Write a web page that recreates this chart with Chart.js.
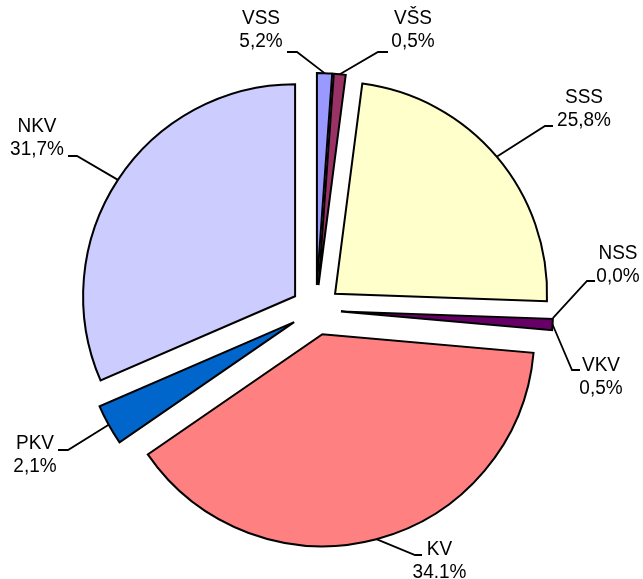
<!DOCTYPE html>
<html>
<head>
<meta charset="utf-8">
<script src="https://cdn.jsdelivr.net/npm/chart.js@4.4.1/dist/chart.umd.min.js"></script>
<style>
    html, body { margin: 0; padding: 0; background: #fff; }
</style>
</head>
<body>
<canvas id="pieChart" width="643" height="579"></canvas>
<script>
const categories = ['VSS', 'VŠS', 'SSS', 'NSS', 'VKV', 'KV', 'PKV', 'NKV'];
// slice sizes as they are drawn (%)
const shares = [1.15, 0.9, 23.5, 0, 0.85, 39.0, 3.1, 31.5];
// percentages printed next to the slices
const percentLabels = ['5,2%', '0,5%', '25,8%', '0,0%', '0,5%', '34.1%', '2,1%', '31,7%'];
const sliceColors = ['#9999FF', '#993366', '#FFFFCC', '#CCFFFF', '#660066', '#FF8080', '#0066CC', '#CCCCFF'];

const R = 212;
const EXPLODE = 25; // every slice pulled out by 25px

// label layout relative to pie centre: [textX, line1Y, hookX, hookY, elbowX]
const labelSpots = [
    [-55, -291.5, -29, -258, -19],
    [97, -291.5, 72, -258, 62],
    [268, -212.5, 237, -184, 229],
    [302, -56.5, 279, -29, 271],
    [285, 55, 264, 60, 256],
    [123.5, 239.5, 106, 245, 99],
    [-281, 133.5, -258, 140, -248],
    [-279, -183.5, -248, -154, -239]
];

function pieCentre(chart) {
    const a = chart.chartArea;
    return { x: (a.left + a.right) / 2, y: (a.top + a.bottom) / 2 };
}

// move every arc outwards along its bisector (exploded pie)
const explode = {
    id: 'explode',
    beforeDatasetsDraw(chart) {
        const c = pieCentre(chart);
        chart.getDatasetMeta(0).data.forEach(arc => {
            const mid = (arc.startAngle + arc.endAngle) / 2;
            arc.x = c.x + Math.cos(mid) * EXPLODE;
            arc.y = c.y + Math.sin(mid) * EXPLODE;
        });
    }
};

const sliceLabels = {
    id: 'sliceLabels',
    afterDatasetsDraw(chart) {
        const ctx = chart.ctx;
        const c = pieCentre(chart);
        const arcs = chart.getDatasetMeta(0).data;
        ctx.save();
        ctx.strokeStyle = '#000';
        ctx.lineWidth = 1.8;
        ctx.fillStyle = '#000';
        ctx.font = '19px "Liberation Sans", Arial, sans-serif';
        ctx.textAlign = 'center';
        ctx.textBaseline = 'middle';
        arcs.forEach((arc, i) => {
            const mid = (arc.startAngle + arc.endAngle) / 2;
            const sx = arc.x + Math.cos(mid) * R;
            const sy = arc.y + Math.sin(mid) * R;
            const s = labelSpots[i];
            ctx.beginPath();
            ctx.moveTo(sx, sy);
            ctx.lineTo(c.x + s[4], c.y + s[3]);
            ctx.lineTo(c.x + s[2], c.y + s[3]);
            ctx.stroke();

            [categories[i], percentLabels[i]].forEach((txt, k) => {
                ctx.save();
                ctx.translate(c.x + s[0], c.y + s[1] + k * 23);
                ctx.scale(1, 1.1);
                ctx.fillText(txt, 0, 0);
                ctx.restore();
            });
        });
        ctx.restore();
    }
};

new Chart(document.getElementById('pieChart'), {
    type: 'pie',
    data: {
        labels: categories,
        datasets: [{
            data: shares,
            backgroundColor: sliceColors,
            borderColor: '#000',
            borderWidth: 2,
            borderJoinStyle: 'miter'
        }]
    },
    options: {
        responsive: false,
        animation: false,
        radius: R,
        layout: { padding: { left: 0, right: 11, top: 41, bottom: 0 } },
        plugins: {
            legend: { display: false },
            tooltip: { enabled: false }
        }
    },
    plugins: [explode, sliceLabels]
});
</script>
</body>
</html>
